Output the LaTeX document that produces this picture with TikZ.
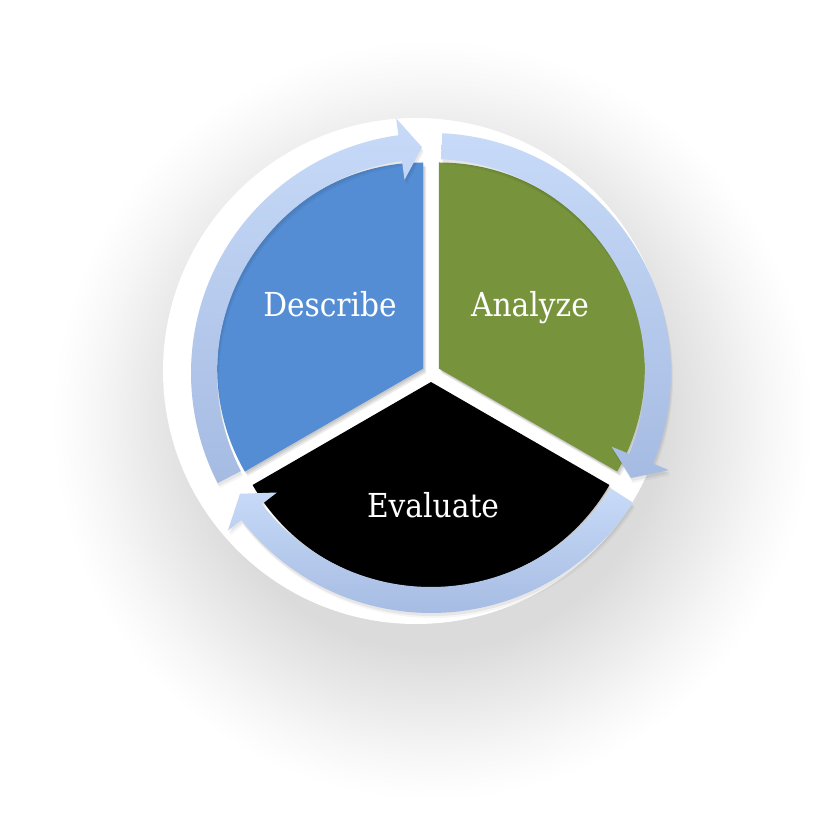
\documentclass[tikz,border=0pt]{standalone}
\usepackage{fontspec}
\newfontfamily\lblfont{DejaVu Serif Condensed}
\usetikzlibrary{calc}
\definecolor{secblue}{RGB}{84,141,212}
\definecolor{secgreen}{RGB}{119,147,60}
\definecolor{ringtop}{RGB}{199,218,248}
\definecolor{ringbot}{RGB}{166,187,226}
\definecolor{shA}{gray}{0.86}
\definecolor{shB}{gray}{0.89}
\definecolor{shC}{gray}{0.93}
\definecolor{shD}{gray}{0.965}
\definecolor{shE}{gray}{0.99}
\pgfdeclareradialshading{halo}{\pgfpoint{0bp}{0bp}}{color(0bp)=(shA); color(14.4bp)=(shA); color(16.25bp)=(shB); color(18.75bp)=(shC); color(20.9bp)=(shD); color(22.8bp)=(shE); color(23.8bp)=(white); color(50bp)=(white)}
\newcommand\arrowshape[1]{(\arrS:240) arc[start angle=\arrS, end angle=\arrB, radius=240] -- (\arrB:257) -- (#1:226) -- (\arrB:195) -- (\arrB:214) arc[start angle=\arrB, end angle=\arrS, radius=214] -- cycle}
\newcommand\cyclearrow[1]{%
  \pgfmathsetmacro\arrS{#1+115}%
  \pgfmathsetmacro\arrB{#1+5.5}%
  \fill[black,opacity=0.04,shift={(2,-5)}] \arrowshape{#1};
  \fill[black,opacity=0.06,shift={(1,-3)}] \arrowshape{#1};
  \shade[top color=ringtop, bottom color=ringbot] \arrowshape{#1};
}
\begin{document}
\begin{tikzpicture}[x=1pt,y=1pt,
  lbl/.style={text=white, font=\lblfont\fontsize{33}{40}\selectfont, inner sep=0pt, anchor=base},
  sectorshadow/.style={fill=black, opacity=0.08}]
\useasboundingbox (0,0) rectangle (832,824);
\begin{scope}
  \clip (0,0) rectangle (832,824);
  \fill[white] (0,0) rectangle (832,824);
  \shade[shading=halo] (432,404) circle (400);
\end{scope}
% white disk
\fill[white] (416,453) circle (253);
\begin{scope}[shift={(431,451)}]
  % sector shadows
  \foreach \dx/\dy in {1/-1.5,2/-3,3/-4.5} {
    \fill[sectorshadow,shift={(150:9)},shift={(\dx,\dy)}] (0,0) -- (90:206) arc[start angle=90, end angle=210, radius=206] -- cycle;
    \fill[sectorshadow,shift={(30:9)},shift={(\dx,\dy)}] (0,0) -- (-30:206) arc[start angle=-30, end angle=90, radius=206] -- cycle;
    \fill[sectorshadow,shift={(270:9)},shift={(\dx,\dy)}] (0,0) -- (210:206) arc[start angle=210, end angle=330, radius=206] -- cycle;
  }
  % sectors
  \fill[secblue,shift={(150:9)}] (0,0) -- (90:206) arc[start angle=90, end angle=210, radius=206] -- cycle;
  \fill[secgreen,shift={(30:9)}] (0,0) -- (-30:206) arc[start angle=-30, end angle=90, radius=206] -- cycle;
  \fill[black,shift={(270:9)}] (0,0) -- (210:206) arc[start angle=210, end angle=330, radius=206] -- cycle;
  % cycle arrows
  \cyclearrow{92.3}
  \cyclearrow{-27.7}
  \cyclearrow{212.3}
\end{scope}
% labels
\node[lbl] (describe) at (330,507) {Describe};
\node[lbl] (analyze) at (530,507) {Analyze};
\node[lbl] (evaluate) at (433,306) {Evaluate};
\end{tikzpicture}
\end{document}
